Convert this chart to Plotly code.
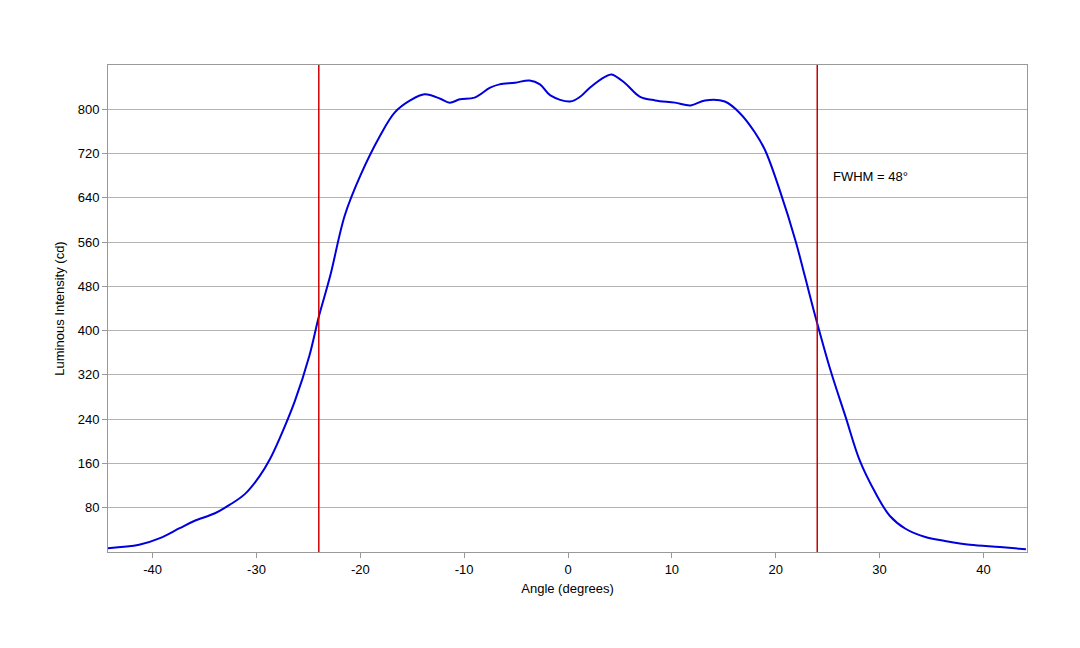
import plotly.graph_objects as go

angle = [-44.3,-41.3,-39.3,-37.4,-36,-34,-32.6,-31.1,-29.7,-28.7,-27.8,-26.3,-24.9,-24.0,-22.9,-21.5,-20,-18.1,-16.7,-15.2,-13.8,-12.3,-11.4,-10.4,-9,-7.5,-6.6,-5.1,-3.7,-2.7,-1.7,0.2,1.2,2.1,3.6,4.2,5.5,6.9,8.4,10.3,11.8,13.2,15.1,16.6,18,19,20.4,21.9,22.8,23.8,25.3,26.7,28.1,29.6,31.0,32.5,34.4,36.3,38.7,41.6,44.1]
intensity = [7,13,25,43,56,70,85,105,137,168,204,273,355,425,499,608,680,752,794,816,827,819,812,818,821,839,845,848,852,845,825,814,823,839,859,863,847,823,816,812,807,816,814,792,758,725,653,563,499,427,327,246,165,107,65,42,27,20,13,9,5]
fwhm_lines = [-24, 24]
label = "FWHM = 48°"
x_ticks = [-40,-30,-20,-10,0,10,20,30,40]
x_labels = [str(v) for v in x_ticks]
y_ticks = [80,160,240,320,400,480,560,640,720,800]

fig = go.Figure()
fig.add_trace(go.Scatter(x=angle, y=intensity, mode="lines",
                         line=dict(color="#0000dd", width=2, shape="spline"), showlegend=False))
for v in fwhm_lines:
    fig.add_trace(go.Scatter(x=[v, v], y=[0, 880], mode="lines",
                             line=dict(color="#cc0000", width=1.5), showlegend=False))
fig.add_annotation(x=25.3, y=679, text=label, showarrow=False, xanchor="left",
                   font=dict(size=13, color="black"))
fig.update_layout(
    width=1080, height=648, paper_bgcolor="white", plot_bgcolor="white",
    margin=dict(l=100, r=61, t=57, b=104),
    font=dict(family="Liberation Sans, Arial, sans-serif", size=13, color="black"),
    xaxis=dict(range=[-44.3, 44.2], tickvals=x_ticks, ticktext=x_labels, showgrid=False,
               zeroline=False, showline=True, linecolor="#999", mirror=True, ticks="outside",
               ticklen=5, tickcolor="#999",
               title=dict(text="Angle (degrees)", standoff=8, font=dict(size=13))),
    yaxis=dict(range=[0, 880], tickvals=y_ticks, showgrid=True,
               gridcolor="#b3b3b3", zeroline=False, showline=True, linecolor="#999", mirror=True,
               ticks="outside", ticklen=5, tickcolor="#999",
               title=dict(text="Luminous Intensity (cd)", standoff=10, font=dict(size=13))),
)
fig.write_html("out.html")
